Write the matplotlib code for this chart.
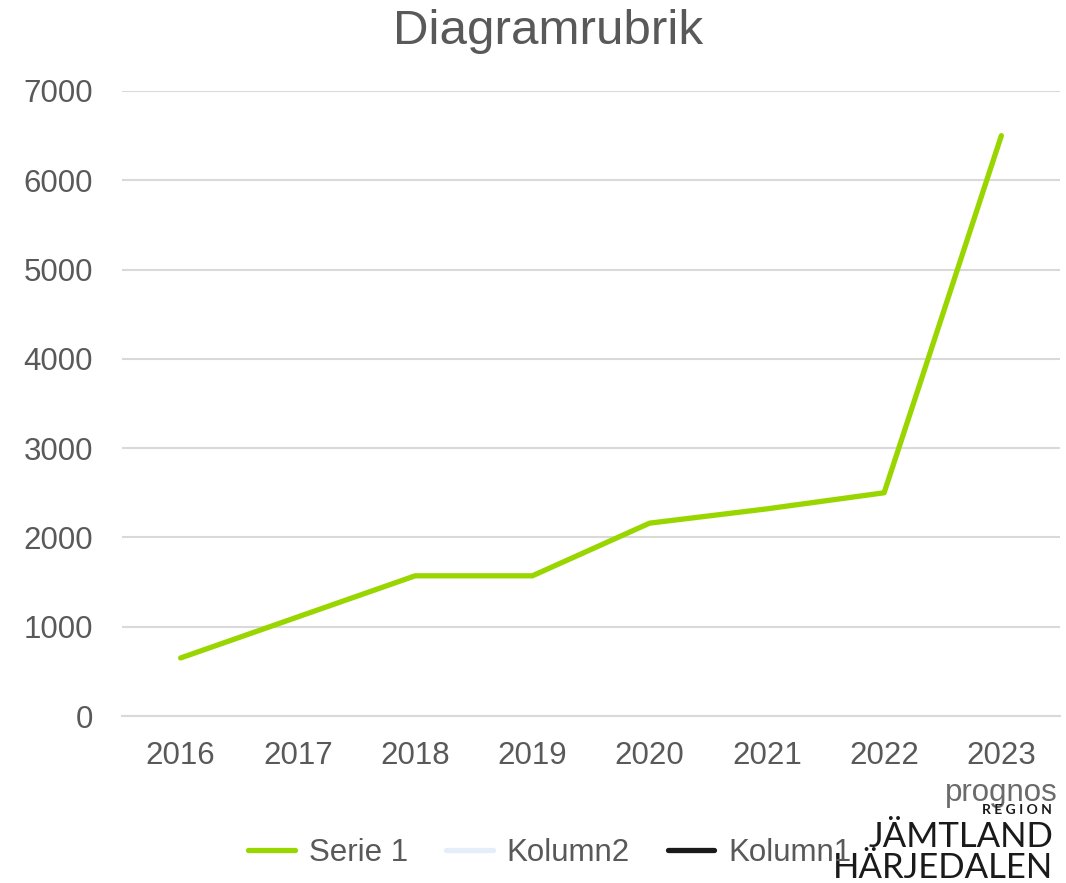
import matplotlib.pyplot as plt

years = ['2016', '2017', '2018', '2019', '2020', '2021', '2022', '2023']
serie1 = [650, 1110, 1570, 1570, 2160, 2320, 2500, 6500]
legend_labels = ['Serie 1', 'Kolumn2', 'Kolumn1']
y_ticks = [0, 1000, 2000, 3000, 4000, 5000, 6000, 7000]

plt.rcParams['font.family'] = ['Liberation Sans', 'DejaVu Sans']
txt = '#595959'
grid = '#d9d9d9'

fig = plt.figure(figsize=(10.66, 8.83), dpi=100)
ax = fig.add_axes([122 / 1066, 1 - 716 / 883, 938 / 1066, 625 / 883])

x = list(range(len(years)))
ax.plot(x, serie1, color='#99d600', lw=3.8, solid_capstyle='round', solid_joinstyle='round', zorder=3)
# empty series, only shown in legend
h2, = ax.plot([], [], color='#e3eef8', lw=3.8, solid_capstyle='round')
h3, = ax.plot([], [], color='#1a1a1a', lw=3.8, solid_capstyle='round')

ax.set_xlim(-0.5, len(years) - 0.5)
ax.set_ylim(0, 7000)
ax.set_xticks(x)
ax.set_xticklabels(years)
ax.set_yticks(y_ticks)
ax.tick_params(length=0, labelsize=22.5, labelcolor=txt)
ax.tick_params(axis='x', pad=18)
ax.tick_params(axis='y', pad=21)
ax.grid(axis='y', color=grid, lw=1.5)
ax.set_axisbelow(True)
for s in ['top', 'right', 'left']:
    ax.spines[s].set_visible(False)
ax.spines['bottom'].set_color(grid)
ax.spines['bottom'].set_linewidth(1.5)

fig.text(548 / 1066, 1 - 31 / 883, 'Diagramrubrik', ha='center', va='center', fontsize=35.5, color=txt)

leg = fig.legend([ax.lines[0], h2, h3], legend_labels, loc='center', ncol=3,
                 bbox_to_anchor=(550 / 1066, 1 - 853 / 883), frameon=False,
                 fontsize=22.5, labelcolor=txt, handlelength=1.5, handletextpad=0.45,
                 columnspacing=1.2)

# logo
fig.text(1058 / 1066, 1 - 801 / 883, 'prognos', ha='right', va='baseline', fontsize=22.5, color='#6b6b6b')
fig.text(1052 / 1066, 1 - 814 / 883, 'R E G I O N', ha='right', va='baseline', fontsize=10,
         color='#1a1a1a', family='Lato', weight='bold')
fig.text(1053 / 1066, 1 - 847 / 883, 'JÄMTLAND', ha='right', va='baseline', fontsize=25,
         color='#1a1a1a', family='Lato')
fig.text(1053 / 1066, 1 - 878 / 883, 'HÄRJEDALEN', ha='right', va='baseline', fontsize=25,
         color='#1a1a1a', family='Lato')

fig.savefig('out.png', dpi=100)
